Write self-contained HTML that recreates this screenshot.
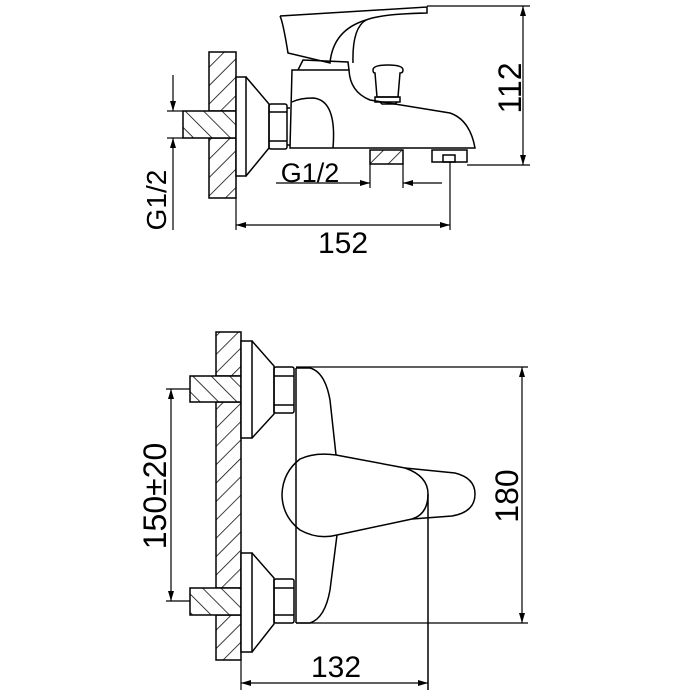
<!DOCTYPE html>
<html><head><meta charset="utf-8"><style>
html,body{margin:0;padding:0;background:#fff;}
svg{display:block;}
text{font-family:"Liberation Sans",Arial,sans-serif;font-size:30px;fill:#000;}
</style></head><body>
<svg width="700" height="700" viewBox="0 0 700 700" xmlns="http://www.w3.org/2000/svg">
<defs>
<pattern id="hf" patternUnits="userSpaceOnUse" width="13" height="13" patternTransform="rotate(45)">
<rect width="13" height="13" fill="#fff"/><line x1="0" y1="0" x2="0" y2="13" stroke="#000" stroke-width="1.5"/></pattern>
<pattern id="hb" patternUnits="userSpaceOnUse" width="13" height="13" patternTransform="rotate(-45)">
<rect width="13" height="13" fill="#fff"/><line x1="0" y1="0" x2="0" y2="13" stroke="#000" stroke-width="1.5"/></pattern>
<marker id="a" viewBox="0 0 10 6" refX="10" refY="3" markerWidth="14" markerHeight="6" markerUnits="userSpaceOnUse" orient="auto-start-reverse">
<path d="M0,0 L10,3 L0,6 Z" fill="#000"/></marker>
</defs>
<g fill="none" stroke="#000" stroke-width="1.5">
<rect x="209" y="52" width="27" height="59" fill="url(#hf)"/>
<rect x="209" y="138" width="27" height="60" fill="url(#hf)"/>
<rect x="183" y="111" width="53" height="27" fill="url(#hb)"/>
<rect x="236" y="77" width="10" height="99" fill="#fff"/>
<path d="M246,77 L269,104 L269,148 L246,176"/>
<rect x="269" y="104" width="18" height="45" rx="2"/>
<path d="M269,112 L287,112 M269,141 L287,141 M287,108 L290,108 M287,145 L290,145"/>
<path d="M290,148 L292,70 L349,70 Q350,92 370,100 L450,113 Q470,120 475,148 Z"/>
<path d="M292,102 Q300,98 313,98 Q337,100 333,148"/>
<path d="M298,70 L303,60 L348,62 L349,70"/>
<path d="M280,16 L427,7 L427,13 Q380,14 366,20 Q352,28 353,63"/>
<path d="M280,16 Q283,22 288,53 L330,63 Q333,30 366,20"/>
<path d="M373,70 Q373,65 388,65 Q403,65 403,70 Q403,73 400,73 L398,97 L377,97 L375,73 Q373,73 373,70 Z"/>
<rect x="375" y="97" width="25" height="5"/>
<path d="M380,102 L382,104 L395,104 L397,102"/>
<rect x="370" y="150" width="33" height="14" fill="url(#hf)"/>
<rect x="432" y="150" width="35" height="12"/>
<rect x="443" y="155" width="12" height="7"/>
<g stroke-width="1.2">
<line x1="427" y1="6" x2="530" y2="6"/>
<line x1="467" y1="165" x2="530" y2="165"/>
<line x1="523" y1="6" x2="523" y2="165" marker-start="url(#a)" marker-end="url(#a)"/>
<line x1="167" y1="111" x2="183" y2="111"/>
<line x1="167" y1="138" x2="183" y2="138"/>
<line x1="173" y1="75" x2="173" y2="111" marker-end="url(#a)"/>
<line x1="173" y1="230" x2="173" y2="138" marker-end="url(#a)"/>
<line x1="370" y1="164" x2="370" y2="188"/>
<line x1="403" y1="164" x2="403" y2="188"/>
<line x1="276" y1="183" x2="370" y2="183" marker-end="url(#a)"/>
<line x1="442" y1="183" x2="403" y2="183" marker-end="url(#a)"/>
<line x1="236" y1="198" x2="236" y2="230"/>
<line x1="450" y1="162" x2="450" y2="230"/>
<line x1="236" y1="225" x2="450" y2="225" marker-start="url(#a)" marker-end="url(#a)"/>
</g>
<rect x="216" y="332" width="25" height="44" fill="url(#hf)"/>
<rect x="216" y="402" width="25" height="186" fill="url(#hf)"/>
<rect x="216" y="615" width="25" height="45" fill="url(#hf)"/>
<rect x="190" y="376" width="51" height="26" fill="url(#hb)"/>
<rect x="190" y="588" width="51" height="27" fill="url(#hb)"/>
<rect x="241" y="341" width="11" height="97" fill="#fff"/>
<path d="M252,341 L274,366 L274,414 L252,438"/>
<rect x="274" y="367" width="20" height="46" rx="2"/>
<path d="M274,376 L294,376 M274,405 L294,405"/>
<rect x="241" y="553" width="11" height="99" fill="#fff"/>
<path d="M252,553 L274,578 L274,624 L252,652"/>
<rect x="274" y="579" width="20" height="44" rx="2"/>
<path d="M274,588 L294,588 M274,615 L294,615"/>
<path d="M296,368 L296,623"/>
<path d="M296,368 L310,368 Q325,372 330,400 L336,455"/>
<path d="M296,623 L310,623 Q325,618 330,590 L337,535"/>
<path d="M336,455 L405,468 Q428,476 428,494 Q428,514 412,519 L337,535 Q318,540 300,530 Q282,516 282,494 Q283,472 300,459 Q315,452 336,455 Z"/>
<path d="M405,468 L455,473 Q475,478 475,494 Q475,512 452,516 L412,519"/>
<line x1="428" y1="494" x2="428" y2="690"/>
<g stroke-width="1.2">
<line x1="296" y1="367" x2="528" y2="367"/>
<line x1="296" y1="623" x2="528" y2="623"/>
<line x1="522" y1="367" x2="522" y2="623" marker-start="url(#a)" marker-end="url(#a)"/>
<line x1="166" y1="389" x2="190" y2="389"/>
<line x1="166" y1="601" x2="190" y2="601"/>
<line x1="171" y1="389" x2="171" y2="601" marker-start="url(#a)" marker-end="url(#a)"/>
<line x1="241" y1="660" x2="241" y2="690"/>
<line x1="241" y1="683" x2="428" y2="683" marker-start="url(#a)" marker-end="url(#a)"/>
</g>
</g>
<text x="343" y="253" text-anchor="middle">152</text>
<text x="310" y="182" text-anchor="middle" style="font-size:27px">G1/2</text>
<text transform="translate(521,88) rotate(-90)" text-anchor="middle" style="font-size:32px">112</text>
<text transform="translate(166,200) rotate(-90)" text-anchor="middle" style="font-size:28px">G1/2</text>
<text x="336" y="677" text-anchor="middle">132</text>
<text transform="translate(518,496) rotate(-90)" text-anchor="middle" style="font-size:32px">180</text>
<text transform="translate(166,496) rotate(-90)" text-anchor="middle" style="font-size:32px">150±20</text>
</svg>
</body></html>
